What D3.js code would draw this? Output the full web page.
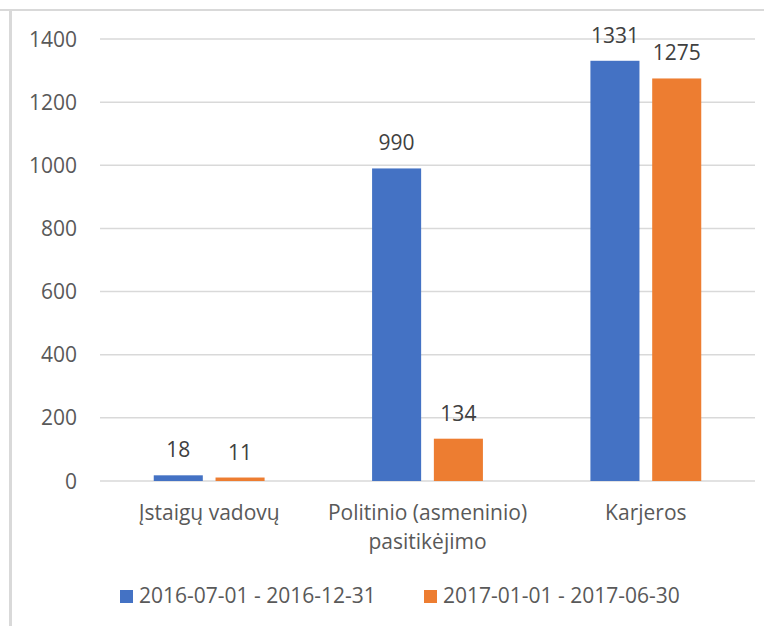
<!DOCTYPE html>
<html>
<head>
<meta charset="utf-8">
<script src="https://cdn.jsdelivr.net/npm/d3@7"></script>
<style>
  body { margin: 0; background: #fff; }
  text { font-family: "Open Sans", Lato, sans-serif; }
</style>
</head>
<body>
<div id="chart"></div>
<script>
// data
const categories = ['Įstaigų vadovų', 'Politinio (asmeninio) pasitikėjimo', 'Karjeros'];
const seriesNames = ['2016-07-01 - 2016-12-31', '2017-01-01 - 2017-06-30'];
const values2016 = [18, 990, 1331];
const values2017 = [11, 134, 1275];
const yTicks = [0, 200, 400, 600, 800, 1000, 1200, 1400];

const colors = ['#4472C4', '#ED7D31'];
const width = 764;
const height = 626;
const fontSize = '21px';

const rows = categories.map((c, i) => ({
  name: c,
  vals: [values2016[i], values2017[i]]
}));

const svg = d3.select('#chart')
    .append('svg')
    .attr('width', width)
    .attr('height', height);

// frame lines
svg.append('rect').attr('x', 0).attr('y', 9).attr('width', width).attr('height', 2).attr('fill', '#d9d9d9');
svg.append('rect').attr('x', 9).attr('y', 9).attr('width', 3).attr('height', height - 9).attr('fill', '#d9d9d9');

const x0 = d3.scaleBand()
    .domain(categories)
    .range([100, 755]);

const x1 = d3.scaleBand()
    .domain([0, 1])
    .range([0, x0.bandwidth()])
    .paddingInner(0.206)
    .paddingOuter(0.87);

const y = d3.scaleLinear()
    .domain([0, 1400])
    .range([481, 39]);

// gridlines
svg.append('g')
    .selectAll('line')
    .data(yTicks)
    .enter()
    .append('line')
    .attr('x1', 100)
    .attr('x2', 755)
    .attr('y1', d => y(d))
    .attr('y2', d => y(d))
    .attr('stroke', '#d9d9d9')
    .attr('stroke-width', 1.5);

// y tick labels
svg.append('g')
    .selectAll('text')
    .data(yTicks)
    .enter()
    .append('text')
    .attr('x', 77)
    .attr('y', d => y(d))
    .attr('dy', '0.36em')
    .attr('text-anchor', 'end')
    .attr('font-size', fontSize)
    .attr('fill', '#595959')
    .text(d => d);

// bars
const groups = svg.append('g')
    .selectAll('g')
    .data(rows)
    .enter()
    .append('g')
    .attr('transform', d => 'translate(' + x0(d.name) + ',0)');

groups.selectAll('rect')
    .data(d => d.vals)
    .enter()
    .append('rect')
    .attr('x', (d, i) => x1(i))
    .attr('y', d => y(d))
    .attr('width', x1.bandwidth())
    .attr('height', d => y(0) - y(d))
    .attr('fill', (d, i) => colors[i]);

groups.selectAll('text')
    .data(d => d.vals)
    .enter()
    .append('text')
    .attr('x', (d, i) => x1(i) + x1.bandwidth() / 2)
    .attr('y', d => y(d) - 18)
    .attr('text-anchor', 'middle')
    .attr('font-size', fontSize)
    .attr('fill', '#404040')
    .text(d => d);

// category labels, wrapped to the band
const catLabels = svg.append('g')
    .selectAll('text')
    .data(categories)
    .enter()
    .append('text')
    .attr('x', d => x0(d) + x0.bandwidth() / 2)
    .attr('y', 520)
    .attr('text-anchor', 'middle')
    .attr('font-size', fontSize)
    .attr('fill', '#595959');

catLabels.each(function(d) {
  const t = d3.select(this);
  const words = d.split(' ');
  const cx = x0(d) + x0.bandwidth() / 2;
  let line = [];
  let tspan = t.append('tspan').attr('x', cx).attr('dy', 0);
  words.forEach(w => {
    line.push(w);
    tspan.text(line.join(' '));
    if (tspan.node().getComputedTextLength() > x0.bandwidth() - 4 && line.length > 1) {
      line.pop();
      tspan.text(line.join(' '));
      line = [w];
      tspan = t.append('tspan').attr('x', cx).attr('dy', 29).text(w);
    }
  });
});

// legend
const legend = svg.append('g');
const legendPos = [120, 424];
seriesNames.forEach((s, i) => {
  legend.append('rect')
      .attr('x', legendPos[i])
      .attr('y', 590)
      .attr('width', 13)
      .attr('height', 13)
      .attr('fill', colors[i]);
  legend.append('text')
      .attr('x', legendPos[i] + 19)
      .attr('y', 603)
      .attr('font-size', fontSize)
      .attr('fill', '#595959')
      .text(s);
});
</script>
</body>
</html>
